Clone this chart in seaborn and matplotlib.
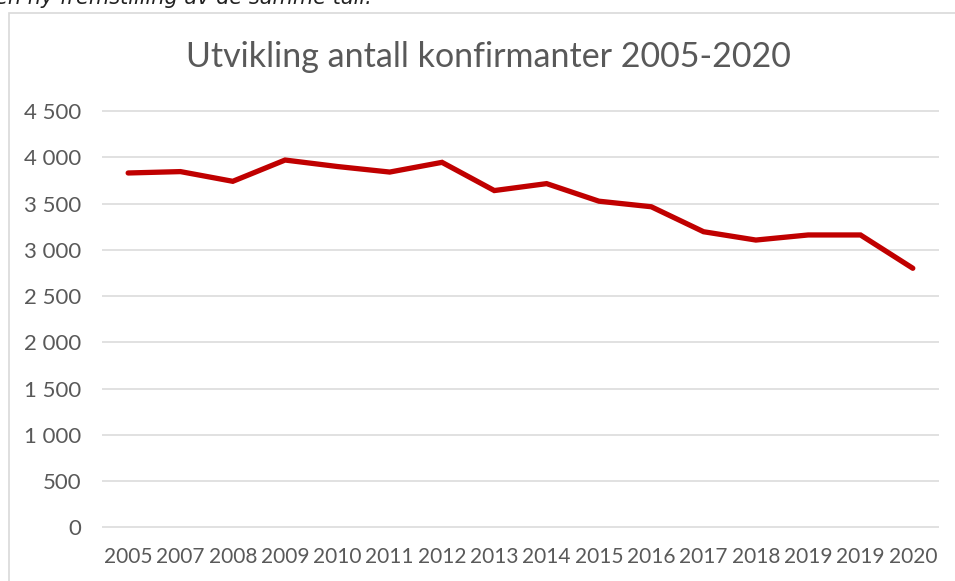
import numpy as np
import pandas as pd
import seaborn as sns
import matplotlib
matplotlib.use("Agg")
import matplotlib.pyplot as plt
from matplotlib.patches import Rectangle
from matplotlib.ticker import FuncFormatter

years = ["2005", "2007", "2008", "2009", "2010", "2011", "2012", "2013",
         "2014", "2015", "2016", "2017", "2018", "2019", "2019", "2020"]
konfirmanter = [3830, 3845, 3740, 3970, 3900, 3840, 3945, 3640,
                3715, 3525, 3465, 3195, 3105, 3160, 3160, 2800]
y_ticks = [0, 500, 1000, 1500, 2000, 2500, 3000, 3500, 4000, 4500]

title = "Utvikling antall konfirmanter 2005-2020"
caption = "en ny fremstilling av de samme tall."

df = pd.DataFrame({"pos": np.arange(len(years)), "antall": konfirmanter})

sns.set_style("white")
plt.rcParams["font.family"] = ["Lato", "DejaVu Sans"]

grey = "#595959"
fig = plt.figure(figsize=(9.55, 5.81), dpi=100)
ax = fig.add_axes([0.1068, 0.0845, 0.8764, 0.7324])

sns.lineplot(data=df, x="pos", y="antall", ax=ax, color="#c00000",
             linewidth=3.8, solid_capstyle="round", solid_joinstyle="miter")

ax.set_xlim(-0.5, len(years) - 0.5)
ax.set_ylim(-50, 4550)
ax.set_yticks(y_ticks)
ax.yaxis.set_major_formatter(FuncFormatter(lambda v, p: f"{v:,.0f}".replace(",", " ")))
ax.set_xticks(df["pos"])
ax.set_xticklabels(years)
ax.grid(axis="y", color="#d9d9d9", linewidth=1.1)
ax.set_axisbelow(True)
for s in ax.spines.values():
    s.set_visible(False)
ax.tick_params(axis="both", length=0, colors=grey)
ax.tick_params(axis="y", pad=15, labelsize=16)
ax.tick_params(axis="x", pad=11, labelsize=15)
ax.set_xlabel("")
ax.set_ylabel("")

fig.text(0.511, 1 - 57 / 581, title, ha="center", va="center",
         fontsize=24.5, color=grey)

# caption from the text above the chart, cut by the top edge as in the source
fig.text(-0.005, 1 - 4 / 581, caption, ha="left", va="baseline",
         fontsize=15, style="italic", color="#222222", family="DejaVu Sans")

fig.add_artist(Rectangle((8.5 / 955, -0.02), 1.1, 1 - 12.5 / 581 + 0.02,
                         transform=fig.transFigure, fill=False,
                         edgecolor="#d9d9d9", linewidth=1.2))

fig.savefig("out.png", dpi=100)
